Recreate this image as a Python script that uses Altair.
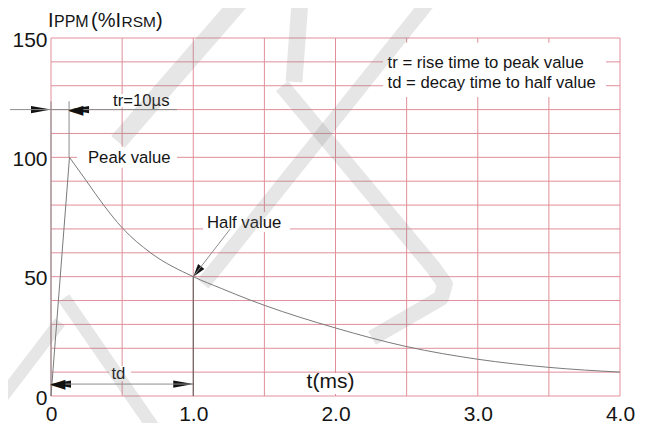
import math
import altair as alt
import pandas as pd

FONT = "Liberation Sans"
RED = "#e08f99"
INK = "#151515"

# ---------------- values ----------------
x_grid = [0.0, 0.5, 1.0, 1.5, 2.0, 2.5, 3.0, 3.5, 4.0]
y_grid = [0, 10, 20, 30, 40, 50, 60, 70, 80, 90, 100, 110, 120, 130, 140, 150]
x_ticks = [0, 1, 2, 3, 4]
y_ticks = [0, 50, 100, 150]

rise_t = [0.0, 0.13]
rise_v = [0.0, 100.0]
decay_t = [0.13, 0.25, 0.37, 0.5, 0.7, 1.0, 1.2, 1.4, 1.5, 2.0, 2.5, 3.0, 3.5, 4.0]
decay_v = [100, 90, 80, 70.5, 60, 50, 45, 40.2, 38, 28.5, 20.7, 15.4, 12.0, 10]

# dimension / leader lines (t1, v1) -> (t2, v2)
dim_t1 = [-0.288, 0.0, 0.127, 0.0, 1.26]
dim_v1 = [120, 0, 100, 5, 70]
dim_t2 = [0.886, 0.0, 0.127, 1.0, 1.0]
dim_v2 = [120, 123.5, 123.5, 5, 50]
half_line_t = [1.0, 1.0]
half_line_v = [0, 50]

# arrow tips and the screen direction each one points to (degrees, clockwise from right)
tip_t = [0.0, 1.0, 0.127, 0.0, 1.0]
tip_v = [120, 5, 120, 5, 50]
tip_dir = [0, 0, 180, 180, 128]

# white boxes behind labels
box_t1 = [0.183, 0.42, 1.069, 2.334, 0.408, 1.75]
box_t2 = [0.886, 0.87, 1.680, 3.902, 0.562, 2.186]
box_v1 = [95.6, 121.0, 68.7, 125.3, 6.3, 0.8]
box_v2 = [104.4, 126.5, 77.1, 148.0, 12.6, 9.6]

# annotation texts
note_text = ["Peak value", "tr=10\u00b5s", "Half value",
             "tr = rise time to peak value", "td = decay time to half value", "td"]
note_t = [0.260, 0.436, 1.097, 2.366, 2.366, 0.425]
note_v = [97.5, 121.5, 70.4, 137.3, 129.0, 7.0]
xtitle_text = ["t(ms)"]
xtitle_t = [1.797]
xtitle_v = [3.3]

# light grey watermark strokes
wm_band = ["a", "a", "b", "b", "c", "c", "c", "c", "c", "d", "d", "e", "e", "f", "f"]
wm_t = [1.399, 0.471, 1.757, 1.708, 1.624, 2.678, 2.770, 2.742, 2.257,
        2.721, 1.069, 0.091, 0.731, 0.063, -0.464]
wm_v = [170.2, 106.5, 170.2, 131.6, 129.9, 54.5, 46.9, 41.1, 24.3,
        170.2, 46.9, 41.1, -14.2, 31.0, -10.1]

# ---------------- chart ----------------
W, H = 569, 358
PX_T = 4.0 / W      # one pixel in t units
PX_V = 150.0 / H    # one pixel in v units

xs = alt.Scale(domain=[0, 4], nice=False, zero=False)
ys = alt.Scale(domain=[0, 150], nice=False, zero=False)

x_axis = alt.Axis(values=x_ticks, labelExpr="datum.value == 0 ? '0' : format(datum.value, '.1f')",
                  ticks=False, tickSize=0, domain=False, grid=False, title=None,
                  labelFont=FONT, labelFontSize=21, labelColor=INK, labelPadding=7,
                  labelFlush=False, labelOverlap=False)
y_axis = alt.Axis(values=y_ticks, ticks=False, tickSize=0, domain=False, grid=False, title=None,
                  labelFont=FONT, labelFontSize=21, labelColor=INK, labelPadding=4,
                  labelFlush=False, labelOffset=2, labelOverlap=False)

X = alt.X("t:Q", scale=xs, axis=x_axis)
Y = alt.Y("v:Q", scale=ys, axis=y_axis)

vgrid = alt.Chart(pd.DataFrame({"t": x_grid, "v": [0] * len(x_grid), "v2": [150] * len(x_grid)})).mark_rule(
    color=RED, strokeWidth=1).encode(x=X, y=Y, y2="v2:Q")
hgrid = alt.Chart(pd.DataFrame({"v": y_grid, "t": [0] * len(y_grid), "t2": [4] * len(y_grid)})).mark_rule(
    color=RED, strokeWidth=1).encode(x=X, x2="t2:Q", y=Y)

boxes = alt.Chart(pd.DataFrame({"t": box_t1, "t2": box_t2, "v": box_v1, "v2": box_v2})).mark_rect(
    color="white").encode(x=X, x2="t2:Q", y=Y, y2="v2:Q")

dims = alt.Chart(pd.DataFrame({"t": dim_t1, "v": dim_v1, "t2": dim_t2, "v2": dim_v2})).mark_rule(
    color="#8c8c8c", strokeWidth=1).encode(x=X, y=Y, x2="t2:Q", y2="v2:Q")
half_line = alt.Chart(pd.DataFrame({"t": half_line_t, "v": half_line_v})).mark_line(
    color="#555555", strokeWidth=1).encode(x=X, y=Y)

rise = alt.Chart(pd.DataFrame({"t": rise_t, "v": rise_v})).mark_line(
    color="#7a7a7a", strokeWidth=1).encode(x=X, y=Y)
decay = alt.Chart(pd.DataFrame({"t": decay_t, "v": decay_v})).mark_line(
    color="#7a7a7a", strokeWidth=1, interpolate="monotone").encode(x=X, y=Y)

notes = alt.Chart(pd.DataFrame({"t": note_t, "v": note_v, "label": note_text})).mark_text(
    font=FONT, fontSize=16.7, color=INK, align="left", baseline="alphabetic").encode(
    x=X, y=Y, text="label:N")
xtitle = alt.Chart(pd.DataFrame({"t": xtitle_t, "v": xtitle_v, "label": xtitle_text})).mark_text(
    font=FONT, fontSize=21, color=INK, align="left", baseline="alphabetic").encode(
    x=X, y=Y, text="label:N")


def title_piece(label, x, size):
    return alt.Chart(pd.DataFrame({"label": [label]})).mark_text(
        font=FONT, fontSize=size, color=INK, align="left", baseline="alphabetic").encode(
        x=alt.value(x), y=alt.value(-11.3), text="label:N")


ytitle = [title_piece("I", -3, 20), title_piece("PPM", 3, 16),
          title_piece("(%I", 40, 20), title_piece("RSM", 70.5, 15.5),
          title_piece(")", 105, 20)]

wm = alt.Chart(pd.DataFrame({"band": wm_band, "o": list(range(len(wm_band))), "t": wm_t, "v": wm_v})).mark_line(
    color="#808080", opacity=0.2, strokeCap="butt", strokeJoin="round").encode(
    x=X, y=Y, detail="band:N", order="o:Q",
    strokeWidth=alt.StrokeWidth("band:N", legend=None,
                                scale=alt.Scale(domain=["a", "b", "c", "d", "e", "f"],
                                                range=[18, 12, 24, 18, 22, 20])))

# arrowheads: thin filled triangles built from each tip and its direction
head_layers = []
head_cols = ["#111111", "#121212", "#131313", "#141414", "#151515"]
for i, (t0, v0, ang) in enumerate(zip(tip_t, tip_v, tip_dir)):
    length, half = (13, 4.0) if ang % 90 else (20, 3.6)
    ux, uy = math.cos(math.radians(ang)), math.sin(math.radians(ang))
    bx, by = -ux * length, -uy * length          # tip -> base centre (screen px)
    px_, py_ = -uy * half, ux * half             # perpendicular (screen px)
    pts_x = [0, bx + px_, bx - px_, 0]
    pts_y = [0, by + py_, by - py_, 0]
    tri = pd.DataFrame({
        "o": [0, 1, 2, 3],
        "t": [t0 + dx * PX_T for dx in pts_x],
        "v": [v0 - dy * PX_V for dy in pts_y],
    })
    head_layers.append(
        alt.Chart(tri).mark_line(color=head_cols[i], fill=head_cols[i], strokeWidth=0.5,
                                 filled=True, opacity=1).encode(x=X, y=Y, order="o:Q"))

# left-pointing heads also as pointer glyphs, in case the triangles are dropped
left_t = [t for t, a in zip(tip_t, tip_dir) if a == 180]
left_v = [v for v, a in zip(tip_v, tip_dir) if a == 180]
left_glyph = alt.Chart(pd.DataFrame({"t": left_t, "v": left_v, "g": ["\u25c4"] * len(left_t)})).mark_text(
    font="DejaVu Sans", fontSize=20, color="#111111", align="left", baseline="middle", dx=-1).encode(
    x=X, y=Y, text="g:N")

chart = alt.layer(vgrid, hgrid, *head_layers, boxes, dims, half_line, rise, decay, notes, xtitle,
                  *ytitle, wm, left_glyph).properties(
    width=W, height=H,
    autosize=alt.AutoSizeParams(type="none"),
    padding={"left": 43, "top": 30, "right": 24, "bottom": 27},
).configure_view(stroke=None)

chart.save("out.html", embed_options={"renderer": "svg", "actions": False})
